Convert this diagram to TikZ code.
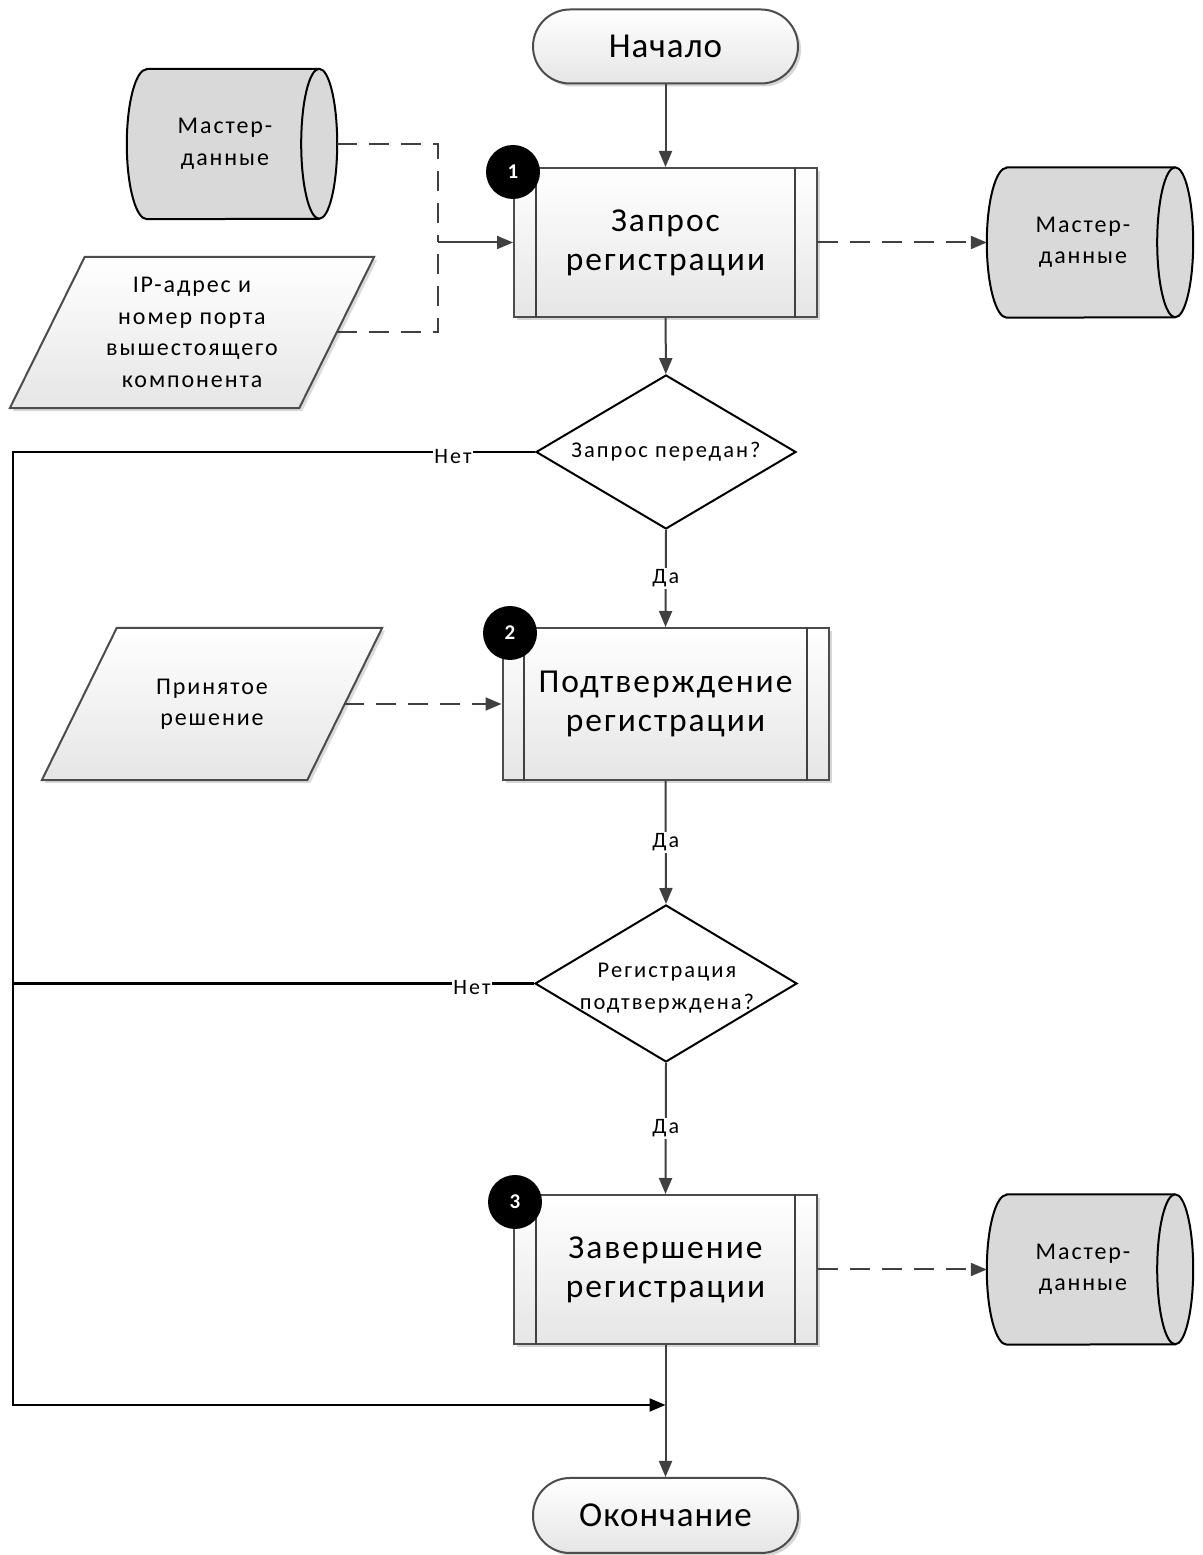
\documentclass[tikz,border=0pt]{standalone}
\usepackage{fontspec}
\setmainfont{Carlito}
\newfontfamily\termfont{Carlito}[LetterSpace=3]
\newfontfamily\boxfont{Carlito}[LetterSpace=6]
\newfontfamily\smallfont{Carlito}[LetterSpace=8]
\newfontfamily\decfont{Carlito}[LetterSpace=9]
\newfontfamily\lblfont{Carlito}[LetterSpace=10]
\usetikzlibrary{arrows.meta,shapes.geometric,shadows,backgrounds,calc}

\tikzset{
  every picture/.style={x=1pt,y=1pt},
  conn/.style={draw=black!75, line width=2pt},
  arr/.style={conn, -{Triangle[length=16pt,width=13pt]}},
  dconn/.style={draw=black!75, line width=2pt, dash pattern=on 20pt off 12pt},
  darr/.style={dconn, -{Triangle[length=16pt,width=13pt]}},
  backline/.style={draw=black, line width=2.2pt},
  softshadow/.style={drop shadow={shadow xshift=3pt, shadow yshift=-3pt, opacity=0.16, fill=black}},
  proc/.style={rectangle, draw=black!70, line width=2pt, top color=white, bottom color=black!10,
    minimum width=303pt, minimum height=149pt, inner sep=0pt, align=center,
    font=\boxfont\fontsize{33.5}{39}\selectfont, softshadow},
  term/.style={rectangle, rounded corners=37pt, draw=black!70, line width=2pt,
    top color=white, bottom color=black!10, minimum width=265pt, minimum height=74pt,
    inner sep=0pt, font=\termfont\fontsize{35}{42}\selectfont, softshadow},
  dec/.style={diamond, draw=black, line width=2pt, fill=white, minimum width=260pt,
    minimum height=154pt, inner sep=0pt},
  dectext/.style={align=center, inner sep=0pt, font=\decfont\fontsize{22.5}{32}\selectfont},
  badge/.style={circle, fill=black, minimum size=54pt, inner sep=0pt, text=white,
    font=\fontsize{21}{24}\selectfont\bfseries},
  store/.style={rectangle, minimum width=206pt, minimum height=150pt, inner sep=0pt},
  storetext/.style={align=center, inner sep=0pt, font=\smallfont\fontsize{24}{31.5}\selectfont},
  iobox/.style={rectangle, minimum height=151pt, inner sep=0pt, align=center,
    font=\smallfont\fontsize{24}{31.5}\selectfont},
  lbl/.style={fill=white, inner sep=1.5pt, font=\lblfont\fontsize{22}{24}\selectfont},
}

% horizontal cylinder (data store) behind a named node
\newcommand{\storeshape}[1]{%
  \begin{scope}[on background layer]
    \draw[line width=2pt, fill=black!15]
      ([xshift=20pt]#1.north west) -- ([xshift=-18pt]#1.north east)
      arc[start angle=90, end angle=-90, x radius=18pt, y radius=75pt]
      -- ([xshift=20pt]#1.south west)
      arc[start angle=270, end angle=90, x radius=20pt, y radius=75pt] -- cycle;
    \draw[line width=2pt] ([xshift=-18pt]#1.north east)
      arc[start angle=90, end angle=270, x radius=18pt, y radius=75pt];
  \end{scope}}

% slanted data box behind a named node
\newcommand{\ioshape}[2]{%
  \begin{scope}[on background layer]
    \fill[black, opacity=0.14]
      ($(#1.north west)+(#2+3pt,-3pt)$) -- ($(#1.north east)+(3pt,-3pt)$)
      -- ($(#1.south east)+(-#2+3pt,-3pt)$) -- ($(#1.south west)+(3pt,-3pt)$) -- cycle;
    \draw[draw=black!70, line width=2pt, top color=white, bottom color=black!10]
      ([xshift=#2]#1.north west) -- (#1.north east)
      -- ([xshift=-#2]#1.south east) -- (#1.south west) -- cycle;
  \end{scope}}

% double side bars of a predefined process
\newcommand{\procbars}[1]{%
  \draw[conn] ([xshift=22.5pt]#1.north west) -- ([xshift=22.5pt]#1.south west);
  \draw[conn] ([xshift=-23pt]#1.north east) -- ([xshift=-23pt]#1.south east);}

\begin{document}
\begin{tikzpicture}
  \begin{scope}[on background layer]
    \fill[white] (0,0) rectangle (1202,1555);
  \end{scope}
  \useasboundingbox (0,0) rectangle (1202,1555);

  % main column
  \node[term] (start) at (665.5,1508.5) {Начало};
  \node[proc] (b1) at (665.5,1312.5) {Запрос\\регистрации};
  \procbars{b1}
  \node[dec] (d1) at (666,1103) {};
  \node[dectext] (d1t) at (666,1103) {Запрос передан?};
  \node[proc, minimum width=326pt, minimum height=152pt] (b2) at (665.5,851) {Подтверждение\\регистрации};
  \procbars{b2}
  \node[dec, minimum width=262pt, minimum height=157pt] (d2) at (666,571.5) {};
  \node[dectext] (d2t) at (667,567) {Регистрация\\подтверждена?};
  \node[proc] (b3) at (665.5,285.5) {Завершение\\регистрации};
  \procbars{b3}
  \node[term, minimum height=75pt] (end) at (665.5,39.5) {Окончание};

  % step badges
  \node[badge] (n1) at (513,1383) {1};
  \node[badge] (n2) at (510,922) {2};
  \node[badge] (n3) at (515,353) {3};

  % data stores
  \node[store, minimum width=210pt] (lm) at (232,1411) {};
  \storeshape{lm}
  \node[storetext] (lmt) at ([xshift=-7pt]lm.center) {Мастер-\\данные};
  \node[store] (rm1) at (1090,1312.5) {};
  \storeshape{rm1}
  \node[storetext] (rm1t) at ([xshift=-7pt]rm1.center) {Мастер-\\данные};
  \node[store] (rm3) at (1090,285.5) {};
  \storeshape{rm3}
  \node[storetext] (rm3t) at ([xshift=-7pt]rm3.center) {Мастер-\\данные};

  % input data
  \node[iobox, minimum width=364pt] (ip) at (192,1222.5)
    {IP-адрес и\\номер порта\\вышестоящего\\компонента};
  \ioshape{ip}{75pt}
  \node[iobox, minimum width=340pt, minimum height=152pt] (ip2) at (212,851)
    {Принятое\\решение};
  \ioshape{ip2}{75pt}

  % flow connectors
  \draw[arr] (start) -- (b1);
  \draw[arr] (b1) -- (d1);
  \draw[arr] (d1.south) -- node[lbl] (y1) {Да} (b2.north);
  \draw[arr] (b2.south) -- node[lbl] (y2) {Да} (d2.north);
  \draw[arr] (d2.south) -- node[lbl] (y3) {Да} (b3.north);
  \draw[arr] (b3) -- (end);

  % data connectors
  \coordinate (j) at (438,1312.5);
  \draw[dconn] (lm.east) -| (j);
  \draw[dconn] ([xshift=-37.5pt]ip.east) -| (j);
  \draw[arr] (j) -- (b1.west);
  \draw[darr] (b1.east) -- (rm1.west);
  \draw[darr] ([xshift=-38pt]ip2.east) -- (b2.west);
  \draw[darr] (b3.east) -- (rm3.west);

  % "no" branches back to the end
  \coordinate (lbot) at (13,150);
  \coordinate (merge) at (665.5,150);
  \draw[backline, -{Triangle[length=16pt,width=13pt]}]
    (d1.west) -- (d1.west -| lbot) -- (lbot) -- (merge);
  \draw[backline] (d2.west) -- (d2.west -| lbot);
  \node[lbl] (no1) at (453,1098) {Нет};
  \node[lbl] (no2) at (472,567) {Нет};
\end{tikzpicture}
\end{document}
